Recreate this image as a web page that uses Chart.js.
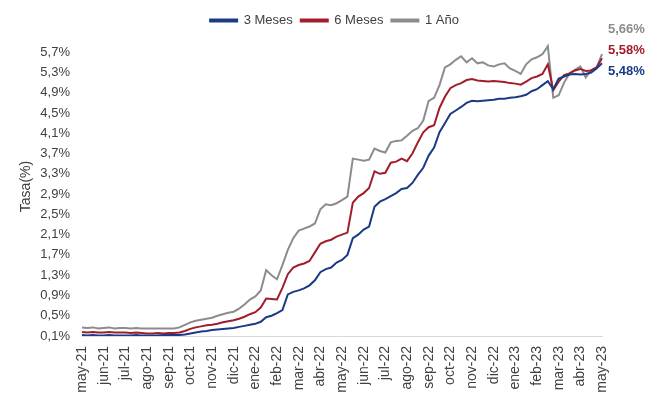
<!DOCTYPE html>
<html>
<head>
<meta charset="utf-8">
<script src="https://cdn.jsdelivr.net/npm/chart.js@4.4.1/dist/chart.umd.min.js"></script>
<style>
  html, body { margin: 0; padding: 0; background: #fff; }
  #wrap { width: 655px; height: 405px; }
</style>
</head>
<body>
<div id="wrap"><canvas id="tasaChart" width="655" height="405"></canvas></div>
<script>
// month tick labels (one every 4 weekly points)
const monthLabels = ["may-21", "jun-21", "jul-21", "ago-21", "sep-21", "oct-21", "nov-21", "dic-21",
    "ene-22", "feb-22", "mar-22", "abr-22", "may-22", "jun-22", "jul-22", "ago-22", "sep-22", "oct-22",
    "nov-22", "dic-22", "ene-23", "feb-23", "mar-23", "abr-23", "may-23"];

const yTicks = [0.1, 0.5, 0.9, 1.3, 1.7, 2.1, 2.5, 2.9, 3.3, 3.7, 4.1, 4.5, 4.9, 5.3, 5.7];

// weekly readings, 4 per month
const tasa3m = [
    0.12, 0.11, 0.12, 0.11, 0.11, 0.12, 0.11, 0.11, 0.11, 0.11, 0.12, 0.11,
    0.11, 0.11, 0.11, 0.12, 0.12, 0.12, 0.12, 0.13, 0.15, 0.17, 0.19, 0.20,
    0.22, 0.23, 0.24, 0.25, 0.26, 0.28, 0.30, 0.32, 0.34, 0.38, 0.47, 0.50,
    0.55, 0.61, 0.92, 0.97, 1.00, 1.04, 1.10, 1.20, 1.36, 1.42, 1.45, 1.55,
    1.60, 1.70, 2.03, 2.10, 2.20, 2.26, 2.65, 2.75, 2.80, 2.86, 2.92, 3.00,
    3.02, 3.12, 3.28, 3.42, 3.66, 3.82, 4.12, 4.30, 4.48, 4.55, 4.62, 4.70,
    4.74, 4.73, 4.74, 4.75, 4.76, 4.78, 4.78, 4.80, 4.81, 4.83, 4.86, 4.93,
    4.97, 5.05, 5.13, 4.97, 5.18, 5.22, 5.26, 5.27, 5.26, 5.27, 5.30, 5.38,
    5.48
];
const tasa6m = [
    0.18, 0.17, 0.18, 0.17, 0.17, 0.18, 0.17, 0.17, 0.17, 0.16, 0.17, 0.16,
    0.15, 0.15, 0.16, 0.15, 0.16, 0.16, 0.17, 0.20, 0.24, 0.27, 0.29, 0.31,
    0.32, 0.34, 0.37, 0.39, 0.41, 0.44, 0.48, 0.53, 0.57, 0.66, 0.84, 0.83,
    0.82, 1.05, 1.32, 1.45, 1.50, 1.53, 1.58, 1.75, 1.92, 1.97, 2.00, 2.06,
    2.10, 2.14, 2.73, 2.85, 2.92, 3.02, 3.35, 3.30, 3.32, 3.52, 3.54, 3.60,
    3.55, 3.70, 3.92, 4.12, 4.22, 4.26, 4.60, 4.82, 4.99, 5.05, 5.09, 5.15,
    5.17, 5.14, 5.13, 5.12, 5.13, 5.12, 5.11, 5.09, 5.08, 5.06, 5.12, 5.19,
    5.22, 5.27, 5.46, 4.95, 5.12, 5.25, 5.28, 5.34, 5.37, 5.33, 5.34, 5.40,
    5.58
];
const tasa1a = [
    0.27, 0.26, 0.27, 0.25, 0.26, 0.27, 0.25, 0.26, 0.26, 0.25, 0.26, 0.25,
    0.25, 0.25, 0.25, 0.25, 0.25, 0.25, 0.27, 0.32, 0.37, 0.40, 0.42, 0.44,
    0.46, 0.50, 0.53, 0.56, 0.58, 0.64, 0.72, 0.82, 0.88, 1.00, 1.40, 1.30,
    1.22, 1.50, 1.80, 2.03, 2.18, 2.22, 2.26, 2.32, 2.60, 2.70, 2.68, 2.72,
    2.78, 2.85, 3.60, 3.58, 3.56, 3.58, 3.80, 3.75, 3.72, 3.92, 3.95, 3.96,
    4.05, 4.15, 4.20, 4.35, 4.74, 4.80, 5.05, 5.40, 5.46, 5.55, 5.62, 5.50,
    5.58, 5.48, 5.50, 5.44, 5.42, 5.46, 5.48, 5.38, 5.33, 5.27, 5.46, 5.56,
    5.60, 5.66, 5.82, 4.80, 4.85, 5.10, 5.28, 5.35, 5.42, 5.20, 5.35, 5.40,
    5.66
];

const weeks = tasa3m.map((_, i) => monthLabels[Math.floor(i / 4)] + " s" + (i % 4 + 1));

const seriesNames = ["3 Meses", "6 Meses", "1 Año"];
const seriesColors = ["#1b3a86", "#a21d2c", "#8c8c8c"];
const textColor = "#404040";

function fmt(v, digits) {
    return v.toFixed(digits).replace(".", ",") + "%";
}

// last values written at the right edge
const endLabels = {
    id: "endLabels",
    afterDraw(chart) {
        const { ctx, chartArea } = chart;
        const rows = [
            { v: tasa1a[tasa1a.length - 1], c: seriesColors[2], dy: -8 },
            { v: tasa6m[tasa6m.length - 1], c: seriesColors[1], dy: 13 },
            { v: tasa3m[tasa3m.length - 1], c: seriesColors[0], dy: 34 }
        ];
        ctx.save();
        ctx.font = "bold 13px 'Liberation Sans', Arial, sans-serif";
        ctx.textBaseline = "middle";
        ctx.textAlign = "left";
        rows.forEach(r => {
            ctx.fillStyle = r.c;
            ctx.fillText(fmt(r.v, 2), chartArea.right + 6, chartArea.top + r.dy);
        });
        ctx.restore();
    }
};

new Chart(document.getElementById("tasaChart"), {
    type: "line",
    data: {
        labels: weeks,
        datasets: [tasa3m, tasa6m, tasa1a].map((data, i) => ({
            label: seriesNames[i],
            data,
            borderColor: seriesColors[i],
            backgroundColor: seriesColors[i],
            borderWidth: 2,
            pointRadius: 0,
            tension: 0,
            yAxisID: "y"
        }))
    },
    options: {
        responsive: false,
        animation: false,
        layout: { padding: { top: 6, left: 14, right: 0, bottom: 0 } },
        plugins: {
            legend: {
                position: "top",
                labels: {
                    boxWidth: 27,
                    boxHeight: 2,
                    padding: 8,
                    color: textColor,
                    font: { family: "'Liberation Sans', Arial, sans-serif", size: 13 }
                }
            },
            tooltip: { enabled: false }
        },
        scales: {
            x: {
                offset: false,
                grid: { display: false },
                border: { display: true, color: "#d9d9d9", width: 1 },
                afterBuildTicks: s => { s.ticks = s.ticks.filter(t => t.value % 4 === 0); },
                afterFit: s => { s.height = 69; },
                ticks: {
                    autoSkip: false,
                    minRotation: 90,
                    maxRotation: 90,
                    padding: 2,
                    color: textColor,
                    font: { family: "'Liberation Sans', Arial, sans-serif", size: 14 },
                    callback: v => monthLabels[v / 4]
                }
            },
            y: {
                min: 0.1,
                max: 6.0,
                grid: { display: false },
                border: { display: false },
                afterBuildTicks: s => { s.ticks = yTicks.map(v => ({ value: v })); },
                afterFit: s => { s.width = 68; },
                ticks: {
                    padding: 4,
                    color: textColor,
                    font: { family: "'Liberation Sans', Arial, sans-serif", size: 13 },
                    callback: v => fmt(v, 1)
                },
                title: {
                    display: true,
                    text: "Tasa(%)",
                    color: textColor,
                    padding: { top: 4, bottom: 0 },
                    font: { family: "'Liberation Sans', Arial, sans-serif", size: 14 }
                }
            },
            yR: {
                position: "right",
                display: true,
                grid: { display: false },
                border: { display: false },
                ticks: { display: false },
                afterFit: s => { s.width = 53; }
            }
        }
    },
    plugins: [endLabels]
});
</script>
</body>
</html>
